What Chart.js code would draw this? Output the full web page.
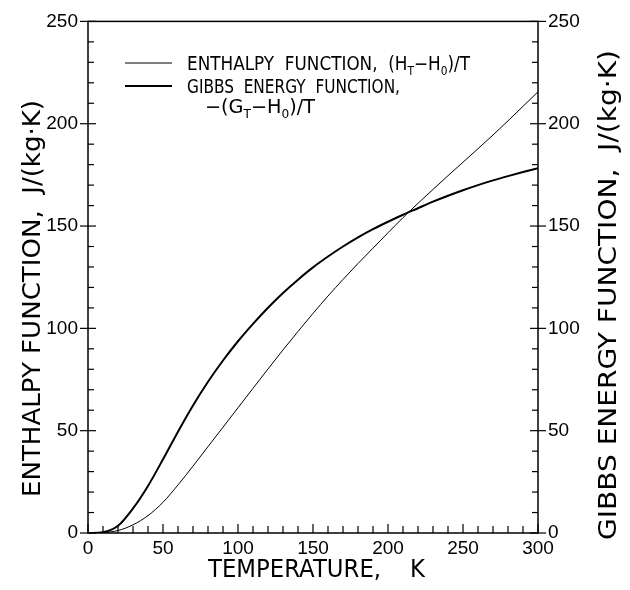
<!DOCTYPE html>
<html><head><meta charset="utf-8">
<script src="https://cdn.jsdelivr.net/npm/chart.js@4/dist/chart.umd.min.js"></script>
<style>html,body{margin:0;padding:0;background:#fff}</style>
</head><body>
<canvas id="c" width="630" height="590"></canvas>
<script>
// ---- data ----
const temperatureK = [0,10,20,30,40,50,60,70,80,90,100,110,120,130,140,150,160,170,180,190,200,210,220,230,240,250,260,270,280,290,300];
const gibbsFunction = [0,0.4,3.5,12,23,36,49.5,62.3,73.9,84.3,93.7,102.2,110.1,117.3,123.8,129.8,135.1,140,144.5,148.5,152.1,155.5,158.7,161.9,164.8,167.5,170,172.3,174.4,176.4,178.3];
const enthalpyFunction = [0,0.2,1.2,4,8.5,15,23.5,32.7,42.2,51.7,61.2,70.7,80.15,89.45,98.5,107.3,115.8,123.9,131.7,139.2,146.7,154.1,161.1,167.9,174.6,181.2,187.8,194.5,201.4,208.5,215.6];
const xTickStep = 50, yTickStep = 50;
const xMin = 0, xMax = 300, yMin = 0, yMax = 250;
const xTitle = 'TEMPERATURE,    K';
const yLeftTitle = 'ENTHALPY FUNCTION,  J/(kg\u00B7K)';
const yRightTitle = 'GIBBS ENERGY FUNCTION,  J/(kg\u00B7K)';
const legendEnthalpy = [['ENTHALPY  FUNCTION,  (H',0],['T',1],['\u2212H',0],['0',1],[')/T',0]];
const legendGibbs1 = [['GIBBS  ENERGY  FUNCTION,',0]];
const legendGibbs2 = [['\u2212(G',0],['T',1],['\u2212H',0],['0',1],[')/T',0]];

const pts = (xs, ys) => xs.map((t,i)=>({x:t, y:ys[i]}));

const TXT_FONT = '"DejaVu Sans", sans-serif';

function drawSegments(ctx, segs, x, y, size, targetW) {
  const main = size + 'px ' + TXT_FONT, sub = Math.round(size*0.62) + 'px ' + TXT_FONT;
  let w = 0;
  segs.forEach(([t,s]) => { ctx.font = s?sub:main; w += ctx.measureText(t).width; });
  const k = targetW ? targetW / w : 1;
  ctx.save();
  ctx.translate(x, y);
  ctx.scale(k, 1);
  let cx = 0;
  ctx.textBaseline = 'alphabetic';
  ctx.textAlign = 'left';
  segs.forEach(([t,s]) => {
    ctx.font = s?sub:main;
    ctx.fillText(t, cx, s ? size*0.28 : 0);
    cx += ctx.measureText(t).width;
  });
  ctx.restore();
}

const framePlugin = {
  id: 'frame',
  afterDraw(chart) {
    const {ctx, chartArea:a, scales} = chart;
    const x = scales.x, y = scales.y;
    ctx.save();
    ctx.strokeStyle = '#000';
    ctx.fillStyle = '#000';
    ctx.lineWidth = 1.5;
    ctx.strokeRect(a.left, a.top, a.right - a.left, a.bottom - a.top);
    ctx.lineWidth = 1.2;
    const ln = (x1,y1,x2,y2)=>{ctx.beginPath();ctx.moveTo(x1,y1);ctx.lineTo(x2,y2);ctx.stroke();};
    for (let v = yMin; v <= yMax; v += 10) {
      const py = y.getPixelForValue(v);
      const major = v % yTickStep === 0;
      ln(a.left - (major?8:0), py, a.left + (major?8:6), py);
      ln(a.right + (major?8:0), py, a.right - (major?8:6), py);
    }
    for (let v = xMin; v <= xMax; v += 10) {
      const px = x.getPixelForValue(v);
      ln(px, a.bottom, px, a.bottom - (v % xTickStep === 0 ? 9 : 7));
    }
    // axis titles
    drawSegments(ctx, [[xTitle,0]], 208, 577, 24, 217);
    ctx.save(); ctx.translate(40, 497); ctx.rotate(-Math.PI/2);
    drawSegments(ctx, [[yLeftTitle,0]], 0, 0, 24, 397);
    ctx.restore();
    ctx.save(); ctx.translate(616, 540); ctx.rotate(-Math.PI/2);
    drawSegments(ctx, [[yRightTitle,0]], 0, 0, 24, 490);
    ctx.restore();
    // legend
    const ds = chart.data.datasets;
    ctx.lineWidth = ds[0].borderWidth;
    ln(125, 63, 172, 63);
    ctx.lineWidth = ds[1].borderWidth;
    ln(125, 86, 172, 86);
    drawSegments(ctx, legendEnthalpy, 187, 70, 19, 283);
    drawSegments(ctx, legendGibbs1, 187, 93, 19, 213);
    drawSegments(ctx, legendGibbs2, 205, 113, 19, 110);
    ctx.restore();
  }
};

const tickFont = {family: '"Liberation Sans", Arial, sans-serif', size: 19};

new Chart(document.getElementById('c'), {
  type: 'line',
  data: {
    datasets: [
      {label: 'Enthalpy function', data: pts(temperatureK, enthalpyFunction), borderColor: '#000', borderWidth: 1, yAxisID: 'y', pointRadius: 0, fill: false, cubicInterpolationMode: 'monotone'},
      {label: 'Gibbs energy function', data: pts(temperatureK, gibbsFunction), borderColor: '#000', borderWidth: 2, yAxisID: 'y2', pointRadius: 0, fill: false, cubicInterpolationMode: 'monotone'}
    ]
  },
  options: {
    responsive: false,
    animation: false,
    devicePixelRatio: 1,
    layout: {padding: {top: 18, left: 0, right: 0, bottom: 0}},
    plugins: {legend: {display: false}, tooltip: {enabled: false}},
    scales: {
      x: {type: 'linear', position: 'bottom', min: xMin, max: xMax,
          afterFit: s => { s.height = 57; },
          grid: {display: false, drawTicks: false}, border: {display: false},
          ticks: {stepSize: xTickStep, autoSkip: false, maxRotation: 0, padding: 4, color: '#000', font: tickFont}},
      y: {type: 'linear', position: 'left', min: yMin, max: yMax,
          afterFit: s => { s.width = 88; },
          grid: {display: false, drawTicks: false}, border: {display: false},
          ticks: {stepSize: yTickStep, padding: 10, color: '#000', font: tickFont}},
      y2: {type: 'linear', position: 'right', min: yMin, max: yMax,
          afterFit: s => { s.width = 92; },
          grid: {display: false, drawTicks: false}, border: {display: false},
          ticks: {stepSize: yTickStep, padding: 10, color: '#000', font: tickFont}}
    }
  },
  plugins: [framePlugin]
});
</script>
</body></html>
